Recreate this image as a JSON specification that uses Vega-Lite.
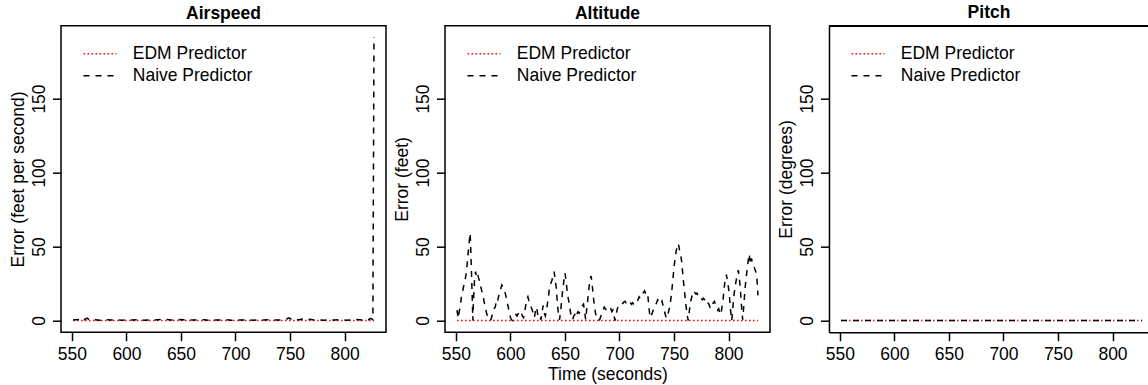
{
  "$schema": "https://vega.github.io/schema/vega-lite/v6.json",
  "padding": {"left": 8, "top": 3.7, "right": 0, "bottom": 0},
  "background": "white",
  "config": {
    "font": "Liberation Sans",
    "view": {"stroke": "black", "strokeWidth": 1.5},
    "axis": {
      "grid": false, "domain": false,
      "tickColor": "black", "tickWidth": 1.5, "tickSize": 8.5,
      "labelFont": "Liberation Sans", "labelFontSize": 17.5, "labelColor": "black",
      "titleFont": "Liberation Sans", "titleFontSize": 17.5, "titleFontWeight": "normal", "titleColor": "black"
    },
    "title": {"font": "Liberation Sans", "fontSize": 17.5, "fontWeight": "bold", "color": "black", "anchor": "middle", "baseline": "bottom", "offset": 3.2},
    "line": {"strokeWidth": 1.5},
    "legend": {"title": null, "orient": "none", "legendX": 21.5, "legendY": 17, "symbolType": "stroke", "symbolSize": 1089, "symbolStrokeWidth": 1.5, "labelFont": "Liberation Sans", "labelFontSize": 17.5, "labelColor": "black", "labelOffset": 15.3, "clipHeight": 22, "rowPadding": 0, "padding": 0, "labelLimit": 400}
  },
  "datasets": {
    "airspeed": [
      {"time": 551, "predictor": "EDM Predictor", "error": 0},
      {"time": 600, "predictor": "EDM Predictor", "error": 0},
      {"time": 650, "predictor": "EDM Predictor", "error": 0},
      {"time": 700, "predictor": "EDM Predictor", "error": 0},
      {"time": 750, "predictor": "EDM Predictor", "error": 0},
      {"time": 800, "predictor": "EDM Predictor", "error": 0},
      {"time": 827, "predictor": "EDM Predictor", "error": 0},
      {"time": 551, "predictor": "Naive Predictor", "error": 0.3},
      {"time": 556, "predictor": "Naive Predictor", "error": 0.6},
      {"time": 559, "predictor": "Naive Predictor", "error": 1.8},
      {"time": 561, "predictor": "Naive Predictor", "error": 0.5},
      {"time": 564, "predictor": "Naive Predictor", "error": 1.6},
      {"time": 566, "predictor": "Naive Predictor", "error": 0.4},
      {"time": 571, "predictor": "Naive Predictor", "error": 0.5},
      {"time": 576, "predictor": "Naive Predictor", "error": 0.2},
      {"time": 581, "predictor": "Naive Predictor", "error": 0.6},
      {"time": 586, "predictor": "Naive Predictor", "error": 0.3},
      {"time": 591, "predictor": "Naive Predictor", "error": 0.5},
      {"time": 596, "predictor": "Naive Predictor", "error": 0.2},
      {"time": 601, "predictor": "Naive Predictor", "error": 0.4},
      {"time": 606, "predictor": "Naive Predictor", "error": 0.3},
      {"time": 611, "predictor": "Naive Predictor", "error": 0.5},
      {"time": 616, "predictor": "Naive Predictor", "error": 0.2},
      {"time": 621, "predictor": "Naive Predictor", "error": 0.4},
      {"time": 626, "predictor": "Naive Predictor", "error": 0.3},
      {"time": 631, "predictor": "Naive Predictor", "error": 0.6},
      {"time": 636, "predictor": "Naive Predictor", "error": 0.8},
      {"time": 641, "predictor": "Naive Predictor", "error": 0.3},
      {"time": 646, "predictor": "Naive Predictor", "error": 0.4},
      {"time": 651, "predictor": "Naive Predictor", "error": 0.6},
      {"time": 656, "predictor": "Naive Predictor", "error": 0.2},
      {"time": 661, "predictor": "Naive Predictor", "error": 0.4},
      {"time": 666, "predictor": "Naive Predictor", "error": 0.3},
      {"time": 671, "predictor": "Naive Predictor", "error": 0.5},
      {"time": 676, "predictor": "Naive Predictor", "error": 0.2},
      {"time": 681, "predictor": "Naive Predictor", "error": 0.4},
      {"time": 686, "predictor": "Naive Predictor", "error": 0.3},
      {"time": 691, "predictor": "Naive Predictor", "error": 0.5},
      {"time": 696, "predictor": "Naive Predictor", "error": 0.2},
      {"time": 701, "predictor": "Naive Predictor", "error": 0.4},
      {"time": 706, "predictor": "Naive Predictor", "error": 0.3},
      {"time": 711, "predictor": "Naive Predictor", "error": 0.5},
      {"time": 716, "predictor": "Naive Predictor", "error": 0.2},
      {"time": 721, "predictor": "Naive Predictor", "error": 0.4},
      {"time": 726, "predictor": "Naive Predictor", "error": 0.3},
      {"time": 731, "predictor": "Naive Predictor", "error": 0.5},
      {"time": 736, "predictor": "Naive Predictor", "error": 0.3},
      {"time": 741, "predictor": "Naive Predictor", "error": 0.4},
      {"time": 746, "predictor": "Naive Predictor", "error": 0.6},
      {"time": 749, "predictor": "Naive Predictor", "error": 1.8},
      {"time": 752, "predictor": "Naive Predictor", "error": 0.4},
      {"time": 755, "predictor": "Naive Predictor", "error": 1.2},
      {"time": 758, "predictor": "Naive Predictor", "error": 0.3},
      {"time": 761, "predictor": "Naive Predictor", "error": 1.0},
      {"time": 764, "predictor": "Naive Predictor", "error": 0.3},
      {"time": 768, "predictor": "Naive Predictor", "error": 0.9},
      {"time": 772, "predictor": "Naive Predictor", "error": 0.3},
      {"time": 776, "predictor": "Naive Predictor", "error": 0.5},
      {"time": 781, "predictor": "Naive Predictor", "error": 0.2},
      {"time": 786, "predictor": "Naive Predictor", "error": 0.4},
      {"time": 791, "predictor": "Naive Predictor", "error": 0.3},
      {"time": 796, "predictor": "Naive Predictor", "error": 0.5},
      {"time": 801, "predictor": "Naive Predictor", "error": 0.2},
      {"time": 806, "predictor": "Naive Predictor", "error": 0.4},
      {"time": 811, "predictor": "Naive Predictor", "error": 0.6},
      {"time": 816, "predictor": "Naive Predictor", "error": 0.4},
      {"time": 819, "predictor": "Naive Predictor", "error": 1.2},
      {"time": 822, "predictor": "Naive Predictor", "error": 0.5},
      {"time": 824, "predictor": "Naive Predictor", "error": 1.4},
      {"time": 826, "predictor": "Naive Predictor", "error": 0.5},
      {"time": 827, "predictor": "Naive Predictor", "error": 191.6}
    ],
    "altitude": [
      {"time": 551, "predictor": "EDM Predictor", "error": 0},
      {"time": 600, "predictor": "EDM Predictor", "error": 0},
      {"time": 650, "predictor": "EDM Predictor", "error": 0},
      {"time": 700, "predictor": "EDM Predictor", "error": 0},
      {"time": 750, "predictor": "EDM Predictor", "error": 0},
      {"time": 800, "predictor": "EDM Predictor", "error": 0},
      {"time": 827, "predictor": "EDM Predictor", "error": 0},
      {"time": 551, "predictor": "Naive Predictor", "error": 7},
      {"time": 552, "predictor": "Naive Predictor", "error": 1.5},
      {"time": 553, "predictor": "Naive Predictor", "error": 6},
      {"time": 554, "predictor": "Naive Predictor", "error": 10},
      {"time": 555, "predictor": "Naive Predictor", "error": 16},
      {"time": 556, "predictor": "Naive Predictor", "error": 19},
      {"time": 557, "predictor": "Naive Predictor", "error": 23},
      {"time": 558, "predictor": "Naive Predictor", "error": 26},
      {"time": 559, "predictor": "Naive Predictor", "error": 30},
      {"time": 560, "predictor": "Naive Predictor", "error": 36},
      {"time": 561, "predictor": "Naive Predictor", "error": 44},
      {"time": 562, "predictor": "Naive Predictor", "error": 52},
      {"time": 563, "predictor": "Naive Predictor", "error": 59},
      {"time": 563.5, "predictor": "Naive Predictor", "error": 50},
      {"time": 564, "predictor": "Naive Predictor", "error": 38},
      {"time": 565, "predictor": "Naive Predictor", "error": 14},
      {"time": 565.5, "predictor": "Naive Predictor", "error": 0},
      {"time": 566, "predictor": "Naive Predictor", "error": 12},
      {"time": 567, "predictor": "Naive Predictor", "error": 27},
      {"time": 568, "predictor": "Naive Predictor", "error": 33},
      {"time": 569, "predictor": "Naive Predictor", "error": 29},
      {"time": 570, "predictor": "Naive Predictor", "error": 31},
      {"time": 571, "predictor": "Naive Predictor", "error": 28},
      {"time": 572, "predictor": "Naive Predictor", "error": 26},
      {"time": 573, "predictor": "Naive Predictor", "error": 22},
      {"time": 574, "predictor": "Naive Predictor", "error": 19},
      {"time": 575, "predictor": "Naive Predictor", "error": 16},
      {"time": 576, "predictor": "Naive Predictor", "error": 12},
      {"time": 577, "predictor": "Naive Predictor", "error": 9},
      {"time": 578, "predictor": "Naive Predictor", "error": 5},
      {"time": 579, "predictor": "Naive Predictor", "error": 3},
      {"time": 580, "predictor": "Naive Predictor", "error": 1.5},
      {"time": 581, "predictor": "Naive Predictor", "error": 0},
      {"time": 582, "predictor": "Naive Predictor", "error": 0.5},
      {"time": 583, "predictor": "Naive Predictor", "error": 3},
      {"time": 584, "predictor": "Naive Predictor", "error": 6},
      {"time": 585, "predictor": "Naive Predictor", "error": 8},
      {"time": 586, "predictor": "Naive Predictor", "error": 9},
      {"time": 587, "predictor": "Naive Predictor", "error": 13},
      {"time": 588, "predictor": "Naive Predictor", "error": 12},
      {"time": 589, "predictor": "Naive Predictor", "error": 16},
      {"time": 590, "predictor": "Naive Predictor", "error": 19},
      {"time": 591, "predictor": "Naive Predictor", "error": 21},
      {"time": 592, "predictor": "Naive Predictor", "error": 24},
      {"time": 593, "predictor": "Naive Predictor", "error": 23},
      {"time": 594, "predictor": "Naive Predictor", "error": 21},
      {"time": 595, "predictor": "Naive Predictor", "error": 19},
      {"time": 596, "predictor": "Naive Predictor", "error": 16},
      {"time": 597, "predictor": "Naive Predictor", "error": 12},
      {"time": 598, "predictor": "Naive Predictor", "error": 9},
      {"time": 599, "predictor": "Naive Predictor", "error": 5},
      {"time": 600, "predictor": "Naive Predictor", "error": 2},
      {"time": 601, "predictor": "Naive Predictor", "error": 0.5},
      {"time": 602, "predictor": "Naive Predictor", "error": 0},
      {"time": 603, "predictor": "Naive Predictor", "error": 2},
      {"time": 604, "predictor": "Naive Predictor", "error": 3},
      {"time": 605, "predictor": "Naive Predictor", "error": 4},
      {"time": 606, "predictor": "Naive Predictor", "error": 3},
      {"time": 607, "predictor": "Naive Predictor", "error": 4.5},
      {"time": 608, "predictor": "Naive Predictor", "error": 5},
      {"time": 609, "predictor": "Naive Predictor", "error": 3.5},
      {"time": 610, "predictor": "Naive Predictor", "error": 5},
      {"time": 611, "predictor": "Naive Predictor", "error": 3},
      {"time": 612, "predictor": "Naive Predictor", "error": 2},
      {"time": 613, "predictor": "Naive Predictor", "error": 6},
      {"time": 614, "predictor": "Naive Predictor", "error": 10},
      {"time": 615, "predictor": "Naive Predictor", "error": 14},
      {"time": 616, "predictor": "Naive Predictor", "error": 16},
      {"time": 617, "predictor": "Naive Predictor", "error": 13},
      {"time": 618, "predictor": "Naive Predictor", "error": 12},
      {"time": 619, "predictor": "Naive Predictor", "error": 9},
      {"time": 620, "predictor": "Naive Predictor", "error": 7},
      {"time": 621, "predictor": "Naive Predictor", "error": 4},
      {"time": 622, "predictor": "Naive Predictor", "error": 2},
      {"time": 623, "predictor": "Naive Predictor", "error": 7},
      {"time": 624, "predictor": "Naive Predictor", "error": 9},
      {"time": 625, "predictor": "Naive Predictor", "error": 4},
      {"time": 626, "predictor": "Naive Predictor", "error": 2},
      {"time": 627, "predictor": "Naive Predictor", "error": 3},
      {"time": 628, "predictor": "Naive Predictor", "error": 0.5},
      {"time": 629, "predictor": "Naive Predictor", "error": 6},
      {"time": 630, "predictor": "Naive Predictor", "error": 10},
      {"time": 631, "predictor": "Naive Predictor", "error": 5},
      {"time": 632, "predictor": "Naive Predictor", "error": 3},
      {"time": 633, "predictor": "Naive Predictor", "error": 6},
      {"time": 634, "predictor": "Naive Predictor", "error": 12},
      {"time": 635, "predictor": "Naive Predictor", "error": 17},
      {"time": 636, "predictor": "Naive Predictor", "error": 24},
      {"time": 637, "predictor": "Naive Predictor", "error": 25},
      {"time": 638, "predictor": "Naive Predictor", "error": 27},
      {"time": 639, "predictor": "Naive Predictor", "error": 30},
      {"time": 640, "predictor": "Naive Predictor", "error": 33},
      {"time": 641, "predictor": "Naive Predictor", "error": 28},
      {"time": 642, "predictor": "Naive Predictor", "error": 22},
      {"time": 643, "predictor": "Naive Predictor", "error": 12},
      {"time": 644, "predictor": "Naive Predictor", "error": 4},
      {"time": 645, "predictor": "Naive Predictor", "error": 0.5},
      {"time": 646, "predictor": "Naive Predictor", "error": 6},
      {"time": 647, "predictor": "Naive Predictor", "error": 14},
      {"time": 648, "predictor": "Naive Predictor", "error": 21},
      {"time": 649, "predictor": "Naive Predictor", "error": 27},
      {"time": 650, "predictor": "Naive Predictor", "error": 32},
      {"time": 651, "predictor": "Naive Predictor", "error": 27},
      {"time": 652, "predictor": "Naive Predictor", "error": 20},
      {"time": 653, "predictor": "Naive Predictor", "error": 15},
      {"time": 654, "predictor": "Naive Predictor", "error": 11},
      {"time": 655, "predictor": "Naive Predictor", "error": 6},
      {"time": 656, "predictor": "Naive Predictor", "error": 2},
      {"time": 657, "predictor": "Naive Predictor", "error": 0.5},
      {"time": 658, "predictor": "Naive Predictor", "error": 3},
      {"time": 659, "predictor": "Naive Predictor", "error": 4},
      {"time": 660, "predictor": "Naive Predictor", "error": 2},
      {"time": 661, "predictor": "Naive Predictor", "error": 4.5},
      {"time": 662, "predictor": "Naive Predictor", "error": 6},
      {"time": 663, "predictor": "Naive Predictor", "error": 5},
      {"time": 664, "predictor": "Naive Predictor", "error": 7},
      {"time": 665, "predictor": "Naive Predictor", "error": 8},
      {"time": 666, "predictor": "Naive Predictor", "error": 10},
      {"time": 667, "predictor": "Naive Predictor", "error": 11},
      {"time": 668, "predictor": "Naive Predictor", "error": 6},
      {"time": 669, "predictor": "Naive Predictor", "error": 0.5},
      {"time": 670, "predictor": "Naive Predictor", "error": 8},
      {"time": 671, "predictor": "Naive Predictor", "error": 15},
      {"time": 672, "predictor": "Naive Predictor", "error": 22},
      {"time": 673, "predictor": "Naive Predictor", "error": 28},
      {"time": 674, "predictor": "Naive Predictor", "error": 30},
      {"time": 675, "predictor": "Naive Predictor", "error": 24},
      {"time": 676, "predictor": "Naive Predictor", "error": 16},
      {"time": 677, "predictor": "Naive Predictor", "error": 10},
      {"time": 678, "predictor": "Naive Predictor", "error": 5},
      {"time": 679, "predictor": "Naive Predictor", "error": 2},
      {"time": 680, "predictor": "Naive Predictor", "error": 0.5},
      {"time": 681, "predictor": "Naive Predictor", "error": 0},
      {"time": 682, "predictor": "Naive Predictor", "error": 1},
      {"time": 683, "predictor": "Naive Predictor", "error": 3},
      {"time": 684, "predictor": "Naive Predictor", "error": 5},
      {"time": 685, "predictor": "Naive Predictor", "error": 7},
      {"time": 686, "predictor": "Naive Predictor", "error": 9},
      {"time": 687, "predictor": "Naive Predictor", "error": 8},
      {"time": 688, "predictor": "Naive Predictor", "error": 7},
      {"time": 689, "predictor": "Naive Predictor", "error": 6.5},
      {"time": 690, "predictor": "Naive Predictor", "error": 8},
      {"time": 691, "predictor": "Naive Predictor", "error": 7.5},
      {"time": 692, "predictor": "Naive Predictor", "error": 8},
      {"time": 693, "predictor": "Naive Predictor", "error": 6},
      {"time": 694, "predictor": "Naive Predictor", "error": 7},
      {"time": 695, "predictor": "Naive Predictor", "error": 3},
      {"time": 696, "predictor": "Naive Predictor", "error": 0},
      {"time": 697, "predictor": "Naive Predictor", "error": 4},
      {"time": 698, "predictor": "Naive Predictor", "error": 8},
      {"time": 699, "predictor": "Naive Predictor", "error": 9.5},
      {"time": 700, "predictor": "Naive Predictor", "error": 10},
      {"time": 701, "predictor": "Naive Predictor", "error": 11},
      {"time": 702, "predictor": "Naive Predictor", "error": 12},
      {"time": 703, "predictor": "Naive Predictor", "error": 11.5},
      {"time": 704, "predictor": "Naive Predictor", "error": 12.5},
      {"time": 705, "predictor": "Naive Predictor", "error": 13},
      {"time": 706, "predictor": "Naive Predictor", "error": 12},
      {"time": 707, "predictor": "Naive Predictor", "error": 13},
      {"time": 708, "predictor": "Naive Predictor", "error": 12.5},
      {"time": 709, "predictor": "Naive Predictor", "error": 13},
      {"time": 710, "predictor": "Naive Predictor", "error": 12},
      {"time": 711, "predictor": "Naive Predictor", "error": 11},
      {"time": 712, "predictor": "Naive Predictor", "error": 12},
      {"time": 713, "predictor": "Naive Predictor", "error": 11},
      {"time": 714, "predictor": "Naive Predictor", "error": 10.5},
      {"time": 715, "predictor": "Naive Predictor", "error": 11.5},
      {"time": 716, "predictor": "Naive Predictor", "error": 13},
      {"time": 717, "predictor": "Naive Predictor", "error": 14},
      {"time": 718, "predictor": "Naive Predictor", "error": 16},
      {"time": 719, "predictor": "Naive Predictor", "error": 15},
      {"time": 720, "predictor": "Naive Predictor", "error": 17},
      {"time": 721, "predictor": "Naive Predictor", "error": 18},
      {"time": 722, "predictor": "Naive Predictor", "error": 19},
      {"time": 723, "predictor": "Naive Predictor", "error": 20},
      {"time": 724, "predictor": "Naive Predictor", "error": 18},
      {"time": 725, "predictor": "Naive Predictor", "error": 19},
      {"time": 726, "predictor": "Naive Predictor", "error": 17},
      {"time": 727, "predictor": "Naive Predictor", "error": 9},
      {"time": 728, "predictor": "Naive Predictor", "error": 2},
      {"time": 729, "predictor": "Naive Predictor", "error": 3},
      {"time": 730, "predictor": "Naive Predictor", "error": 5},
      {"time": 731, "predictor": "Naive Predictor", "error": 7},
      {"time": 732, "predictor": "Naive Predictor", "error": 8},
      {"time": 733, "predictor": "Naive Predictor", "error": 10},
      {"time": 734, "predictor": "Naive Predictor", "error": 12},
      {"time": 735, "predictor": "Naive Predictor", "error": 14},
      {"time": 736, "predictor": "Naive Predictor", "error": 13},
      {"time": 737, "predictor": "Naive Predictor", "error": 12},
      {"time": 738, "predictor": "Naive Predictor", "error": 11},
      {"time": 739, "predictor": "Naive Predictor", "error": 13},
      {"time": 740, "predictor": "Naive Predictor", "error": 10},
      {"time": 741, "predictor": "Naive Predictor", "error": 7},
      {"time": 742, "predictor": "Naive Predictor", "error": 4},
      {"time": 743, "predictor": "Naive Predictor", "error": 1.5},
      {"time": 744, "predictor": "Naive Predictor", "error": 3},
      {"time": 745, "predictor": "Naive Predictor", "error": 6},
      {"time": 746, "predictor": "Naive Predictor", "error": 9},
      {"time": 747, "predictor": "Naive Predictor", "error": 14},
      {"time": 748, "predictor": "Naive Predictor", "error": 20},
      {"time": 749, "predictor": "Naive Predictor", "error": 28},
      {"time": 750, "predictor": "Naive Predictor", "error": 36},
      {"time": 751, "predictor": "Naive Predictor", "error": 42},
      {"time": 752, "predictor": "Naive Predictor", "error": 47},
      {"time": 753, "predictor": "Naive Predictor", "error": 50},
      {"time": 754, "predictor": "Naive Predictor", "error": 52},
      {"time": 755, "predictor": "Naive Predictor", "error": 48},
      {"time": 756, "predictor": "Naive Predictor", "error": 45},
      {"time": 757, "predictor": "Naive Predictor", "error": 40},
      {"time": 758, "predictor": "Naive Predictor", "error": 32},
      {"time": 759, "predictor": "Naive Predictor", "error": 24},
      {"time": 760, "predictor": "Naive Predictor", "error": 17},
      {"time": 761, "predictor": "Naive Predictor", "error": 10},
      {"time": 762, "predictor": "Naive Predictor", "error": 4},
      {"time": 763, "predictor": "Naive Predictor", "error": 0},
      {"time": 764, "predictor": "Naive Predictor", "error": 6},
      {"time": 765, "predictor": "Naive Predictor", "error": 12},
      {"time": 766, "predictor": "Naive Predictor", "error": 15},
      {"time": 767, "predictor": "Naive Predictor", "error": 18},
      {"time": 768, "predictor": "Naive Predictor", "error": 20},
      {"time": 769, "predictor": "Naive Predictor", "error": 19},
      {"time": 770, "predictor": "Naive Predictor", "error": 18},
      {"time": 771, "predictor": "Naive Predictor", "error": 18.5},
      {"time": 772, "predictor": "Naive Predictor", "error": 17},
      {"time": 773, "predictor": "Naive Predictor", "error": 16},
      {"time": 774, "predictor": "Naive Predictor", "error": 16.5},
      {"time": 775, "predictor": "Naive Predictor", "error": 15},
      {"time": 776, "predictor": "Naive Predictor", "error": 14},
      {"time": 777, "predictor": "Naive Predictor", "error": 15},
      {"time": 778, "predictor": "Naive Predictor", "error": 14},
      {"time": 779, "predictor": "Naive Predictor", "error": 13},
      {"time": 780, "predictor": "Naive Predictor", "error": 14},
      {"time": 781, "predictor": "Naive Predictor", "error": 12},
      {"time": 782, "predictor": "Naive Predictor", "error": 11},
      {"time": 783, "predictor": "Naive Predictor", "error": 9},
      {"time": 784, "predictor": "Naive Predictor", "error": 8},
      {"time": 785, "predictor": "Naive Predictor", "error": 10},
      {"time": 786, "predictor": "Naive Predictor", "error": 12},
      {"time": 787, "predictor": "Naive Predictor", "error": 13},
      {"time": 788, "predictor": "Naive Predictor", "error": 11},
      {"time": 789, "predictor": "Naive Predictor", "error": 9},
      {"time": 790, "predictor": "Naive Predictor", "error": 7},
      {"time": 791, "predictor": "Naive Predictor", "error": 8},
      {"time": 792, "predictor": "Naive Predictor", "error": 5},
      {"time": 793, "predictor": "Naive Predictor", "error": 4},
      {"time": 794, "predictor": "Naive Predictor", "error": 9},
      {"time": 795, "predictor": "Naive Predictor", "error": 14},
      {"time": 796, "predictor": "Naive Predictor", "error": 22},
      {"time": 797, "predictor": "Naive Predictor", "error": 28},
      {"time": 798, "predictor": "Naive Predictor", "error": 31},
      {"time": 799, "predictor": "Naive Predictor", "error": 27},
      {"time": 800, "predictor": "Naive Predictor", "error": 22},
      {"time": 801, "predictor": "Naive Predictor", "error": 15},
      {"time": 802, "predictor": "Naive Predictor", "error": 6},
      {"time": 803, "predictor": "Naive Predictor", "error": 0},
      {"time": 804, "predictor": "Naive Predictor", "error": 9},
      {"time": 805, "predictor": "Naive Predictor", "error": 17},
      {"time": 806, "predictor": "Naive Predictor", "error": 23},
      {"time": 807, "predictor": "Naive Predictor", "error": 27},
      {"time": 808, "predictor": "Naive Predictor", "error": 31},
      {"time": 809, "predictor": "Naive Predictor", "error": 34},
      {"time": 810, "predictor": "Naive Predictor", "error": 28},
      {"time": 811, "predictor": "Naive Predictor", "error": 20},
      {"time": 812, "predictor": "Naive Predictor", "error": 9},
      {"time": 813, "predictor": "Naive Predictor", "error": 0.5},
      {"time": 814, "predictor": "Naive Predictor", "error": 10},
      {"time": 815, "predictor": "Naive Predictor", "error": 20},
      {"time": 816, "predictor": "Naive Predictor", "error": 28},
      {"time": 817, "predictor": "Naive Predictor", "error": 34},
      {"time": 818, "predictor": "Naive Predictor", "error": 40},
      {"time": 819, "predictor": "Naive Predictor", "error": 45},
      {"time": 820, "predictor": "Naive Predictor", "error": 38},
      {"time": 821, "predictor": "Naive Predictor", "error": 42},
      {"time": 822, "predictor": "Naive Predictor", "error": 39},
      {"time": 823, "predictor": "Naive Predictor", "error": 38},
      {"time": 824, "predictor": "Naive Predictor", "error": 35},
      {"time": 825, "predictor": "Naive Predictor", "error": 33},
      {"time": 826, "predictor": "Naive Predictor", "error": 29},
      {"time": 827, "predictor": "Naive Predictor", "error": 17}
    ],
    "pitch": [
      {"time": 551, "predictor": "EDM Predictor", "error": 0},
      {"time": 600, "predictor": "EDM Predictor", "error": 0},
      {"time": 650, "predictor": "EDM Predictor", "error": 0},
      {"time": 700, "predictor": "EDM Predictor", "error": 0},
      {"time": 750, "predictor": "EDM Predictor", "error": 0},
      {"time": 800, "predictor": "EDM Predictor", "error": 0},
      {"time": 827, "predictor": "EDM Predictor", "error": 0},
      {"time": 551, "predictor": "Naive Predictor", "error": 0},
      {"time": 600, "predictor": "Naive Predictor", "error": 0},
      {"time": 650, "predictor": "Naive Predictor", "error": 0},
      {"time": 700, "predictor": "Naive Predictor", "error": 0},
      {"time": 750, "predictor": "Naive Predictor", "error": 0},
      {"time": 800, "predictor": "Naive Predictor", "error": 0},
      {"time": 827, "predictor": "Naive Predictor", "error": 0}
    ]
  },
  "resolve": {
    "scale": {"x": "independent", "y": "independent", "color": "independent", "strokeDash": "independent"}
  },
  "bounds": "flush",
  "spacing": 59,
  "hconcat": [
    {
      "title": "Airspeed",
      "width": 325,
      "height": 306.5,
      "data": {"name": "airspeed"},
      "mark": {"type": "line"},
      "encoding": {
        "x": {"field": "time", "type": "quantitative", "scale": {"domain": [539.96, 838.04], "nice": false, "zero": false},
          "axis": {"title": null, "values": [550, 600, 650, 700, 750, 800], "labelPadding": 4.4, "labelFlush": false, "tickSize": 8.5}},
        "y": {"field": "error", "type": "quantitative", "scale": {"domain": [-7.9, 199.2], "nice": false, "zero": false},
          "axis": {"title": "Error (feet per second)", "values": [0, 50, 100, 150], "labelAngle": 270, "labelPadding": 3.9, "titlePadding": 3.5, "labelFlush": false, "tickSize": 8.5}},
        "color": {"field": "predictor", "type": "nominal", "scale": {"domain": ["EDM Predictor", "Naive Predictor"], "range": ["#ff0000", "#000000"]}},
        "strokeDash": {"field": "predictor", "type": "nominal", "scale": {"domain": ["EDM Predictor", "Naive Predictor"], "range": [[1.5, 2.5], [6, 6]]}}
      }
    },
    {
      "title": "Altitude",
      "width": 325,
      "height": 306.5,
      "data": {"name": "altitude"},
      "mark": {"type": "line"},
      "encoding": {
        "x": {"field": "time", "type": "quantitative", "scale": {"domain": [539.96, 838.04], "nice": false, "zero": false},
          "axis": {"title": "Time (seconds)", "values": [550, 600, 650, 700, 750, 800], "labelPadding": 4.4, "titlePadding": 3, "labelFlush": false, "tickSize": 8.5}},
        "y": {"field": "error", "type": "quantitative", "scale": {"domain": [-7.9, 199.2], "nice": false, "zero": false},
          "axis": {"title": "Error (feet)", "values": [0, 50, 100, 150], "labelAngle": 270, "labelPadding": 3.9, "titlePadding": 3.5, "labelFlush": false, "tickSize": 8.5}},
        "color": {"field": "predictor", "type": "nominal", "scale": {"domain": ["EDM Predictor", "Naive Predictor"], "range": ["#ff0000", "#000000"]}},
        "strokeDash": {"field": "predictor", "type": "nominal", "scale": {"domain": ["EDM Predictor", "Naive Predictor"], "range": [[1.5, 2.5], [6, 6]]}}
      }
    },
    {
      "title": "Pitch",
      "width": 320,
      "height": 306.5,
      "view": {"stroke": null},
      "data": {"name": "pitch"},
      "layer": [
        {
          "mark": {"type": "line"},
          "encoding": {
            "x": {"field": "time", "type": "quantitative", "scale": {"domain": [539.96, 833.46], "nice": false, "zero": false},
              "axis": {"title": null, "values": [550, 600, 650, 700, 750, 800], "labelPadding": 4.4, "labelFlush": false, "tickSize": 8.5, "domain": true, "domainColor": "black", "domainWidth": 1.5}},
            "y": {"field": "error", "type": "quantitative", "scale": {"domain": [-7.9, 199.2], "nice": false, "zero": false},
              "axis": {"title": "Error (degrees)", "values": [0, 50, 100, 150], "labelAngle": 270, "labelPadding": 3.9, "titlePadding": 3.5, "labelFlush": false, "tickSize": 8.5, "domain": true, "domainColor": "black", "domainWidth": 1.5}},
            "color": {"field": "predictor", "type": "nominal", "scale": {"domain": ["EDM Predictor", "Naive Predictor"], "range": ["#ff0000", "#000000"]}},
            "strokeDash": {"field": "predictor", "type": "nominal", "scale": {"domain": ["EDM Predictor", "Naive Predictor"], "range": [[1.5, 2.5], [6, 6]]}}
          }
        },
        {
          "mark": {"type": "rule", "color": "black", "strokeWidth": 1.5},
          "encoding": {"y": {"datum": 199.2}}
        }
      ]
    }
  ]
}
